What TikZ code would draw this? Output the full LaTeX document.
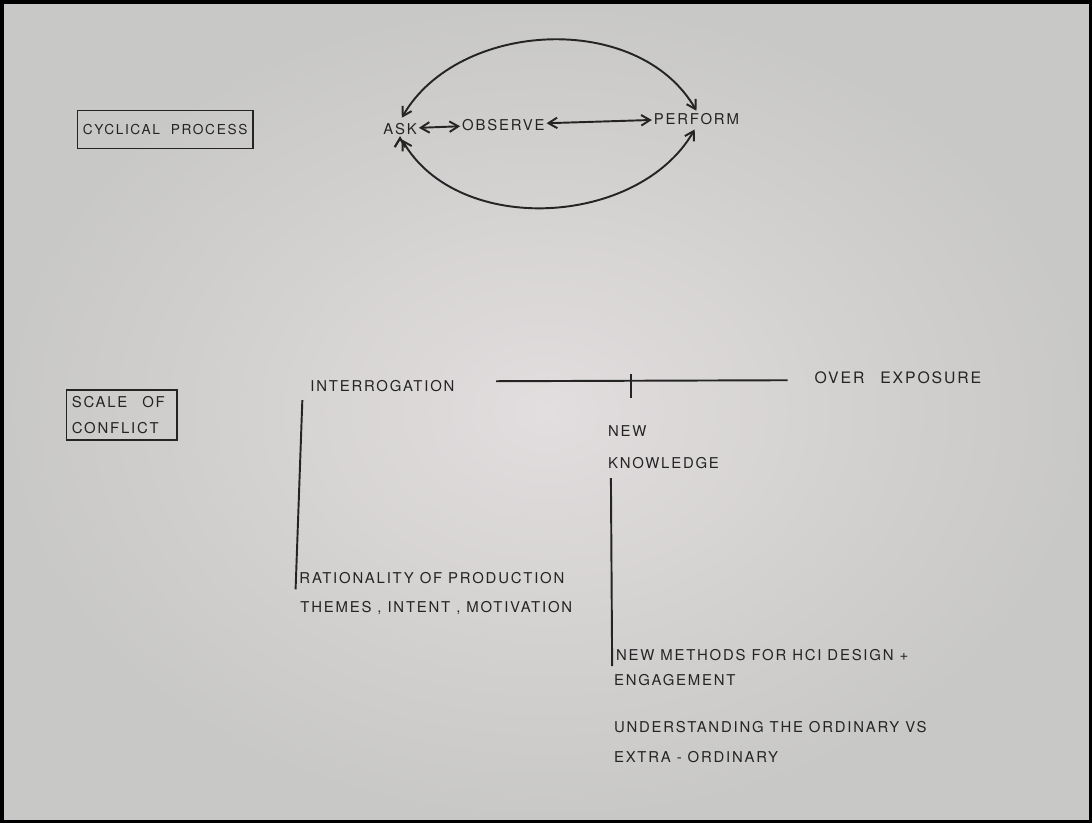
\documentclass[tikz,border=0pt]{standalone}
\usepackage{fontspec}
\newfontfamily\handfont[LetterSpace=12]{TeX Gyre Heros}
\usetikzlibrary{arrows.meta,positioning}
\definecolor{paper}{RGB}{200,200,198}
\definecolor{paperlight}{RGB}{226,221,222}
\definecolor{ink}{RGB}{36,36,36}

\begin{document}
\begin{tikzpicture}[x=0.02cm, y=-0.02cm,
      >={Straight Barb[length=5pt,width=6pt]},
      every node/.append style={font=\handfont\fontsize{8.5}{10}\selectfont, text=ink, inner sep=1pt},
      lbl/.style={anchor=west, align=left},
      tag/.style={draw=ink, line width=1pt, anchor=west, inner sep=3pt, align=left},
      pen/.style={draw=ink, line width=1.1pt}]

     % paper and photo frame
     \shade[inner color=paperlight, outer color=paper] (0,0) rectangle (1092,823);
     \draw[black, line width=2pt] (1,1) rectangle (1091,822);

     % cyclical process
     \node [tag, minimum height=0.76cm, font=\handfont\fontsize{7.8}{10}\selectfont] (cyc) at (76,129) {CYCLICAL\ \ PROCESS};
     \node [lbl] (ask)  at (381,128) {ASK};
     \node [lbl] (obs)  at (460,124) {OBSERVE};
     \node [lbl] (perf) at (652,118) {PERFORM};
     \path[pen, <->] (ask) edge (obs)
                     (obs) edge (perf)
                     (ask.north) edge[out=60, in=120, shorten <=2pt] (perf.north)
                     (ask.south) edge[out=-60, in=-120, shorten <=2pt, shorten >=2pt] (perf.south);

     % scale of conflict
     \node [tag, text width=2cm, minimum height=1cm] (scale) at (65,415) {SCALE\quad OF\\[5pt]CONFLICT};
     \node [lbl] (interr) at (308,386) {INTERROGATION};
     \node [lbl, font=\handfont\fontsize{9}{10}\selectfont] (over) at (813,378) {OVER\quad EXPOSURE};
     \coordinate (lineL) at (496,381);
     \coordinate (lineR) at (788,380);
     \coordinate (tickT) at (631,374);
     \coordinate (tickB) at (631,398);
     \draw[pen] (lineL) -- (lineR);
     \draw[pen] (tickT) -- (tickB);
     \node [lbl] (know) at (606,447) {NEW\\[8pt]KNOWLEDGE};

     % left branch
     \coordinate (leftTop) at (302,400);
     \node [lbl] (ration) at (297,578) {RATIONALITY OF PRODUCTION};
     \node [lbl] (themes) at (298,608) {THEMES , INTENT , MOTIVATION};
     \draw[pen] (leftTop) -- ([xshift=-1pt, yshift=-2pt]ration.south west);

     % right branch
     \coordinate (rightTop) at (611,478);
     \node [lbl] (methods) at (614,655) {NEW METHODS FOR HCI DESIGN +};
     \node [lbl] (engage)  at (612,680) {ENGAGEMENT};
     \node [lbl] (under)   at (612,727) {UNDERSTANDING THE ORDINARY VS};
     \node [lbl] (extra)   at (612,757) {EXTRA - ORDINARY};
     \draw[pen] (rightTop) -- ([xshift=-1pt, yshift=-2pt]methods.south west);
\end{tikzpicture}
\end{document}
